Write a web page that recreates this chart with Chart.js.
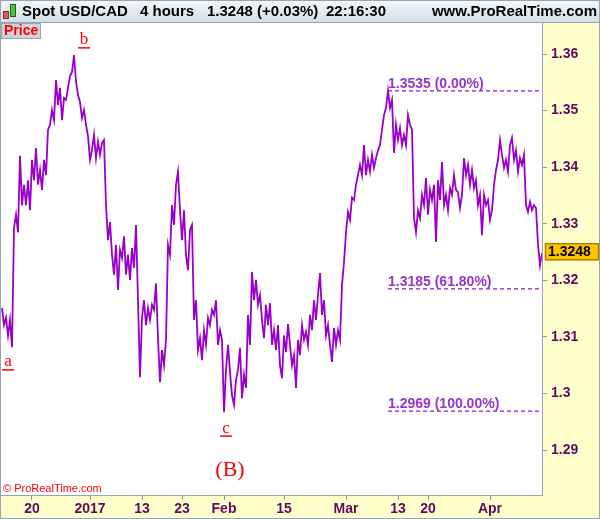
<!DOCTYPE html>
<html>
<head>
<meta charset="utf-8">
<script src="https://cdn.jsdelivr.net/npm/chart.js@4"></script>
<style>
  html, body { margin: 0; padding: 0; background: #fff; }
  #wrap { width: 600px; height: 519px; }
</style>
</head>
<body>
<div id="wrap"><canvas id="chart" width="600" height="519"></canvas></div>
<script>
// USD/CAD 4h closes (roughly one value per 2 px)
const closes = [
  1.3151, 1.3121, 1.3134, 1.3103, 1.3130, 1.3082, 1.3293, 1.3316, 1.3285, 1.3420,
  1.3333, 1.3369, 1.3333, 1.3377, 1.3324, 1.3413, 1.3377, 1.3434, 1.3369, 1.3395,
  1.3360, 1.3413, 1.3386, 1.3466, 1.3475, 1.3501, 1.3483, 1.3554, 1.3510, 1.3540,
  1.3483, 1.3522, 1.3519, 1.3540, 1.3561, 1.3568, 1.3598, 1.3551, 1.3528, 1.3515,
  1.3487, 1.3501, 1.3475, 1.3455, 1.3413, 1.3430, 1.3457, 1.3416, 1.3445, 1.3422,
  1.3443, 1.3448, 1.3333, 1.3271, 1.3303, 1.3245, 1.3210, 1.3263, 1.3183, 1.3254,
  1.3240, 1.3278, 1.3210, 1.3245, 1.3201, 1.3257, 1.3222, 1.3298, 1.3165, 1.3029,
  1.3134, 1.3165, 1.3121, 1.3151, 1.3130, 1.3157, 1.3148, 1.3195, 1.3098, 1.3020,
  1.3077, 1.3050, 1.3095, 1.3263, 1.3245, 1.3333, 1.3298, 1.3369, 1.3392, 1.3324,
  1.3271, 1.3324, 1.3245, 1.3218, 1.3289, 1.3298, 1.3130, 1.3165, 1.3077, 1.3098,
  1.3059, 1.3112, 1.3086, 1.3134, 1.3121, 1.3148, 1.3139, 1.3165, 1.3086, 1.3112,
  1.3095, 1.2967, 1.3042, 1.3086, 1.3038, 1.2997, 1.2980, 1.3024, 1.3042, 1.3081,
  1.2992, 1.3033, 1.3010, 1.3139, 1.3086, 1.3215, 1.3165, 1.3201, 1.3157, 1.3174,
  1.3130, 1.3098, 1.3157, 1.3121, 1.3160, 1.3086, 1.3112, 1.3077, 1.3121, 1.3050,
  1.3027, 1.3103, 1.3073, 1.3123, 1.3086, 1.3050, 1.3068, 1.3010, 1.3095, 1.3068,
  1.3121, 1.3095, 1.3109, 1.3086, 1.3139, 1.3112, 1.3165, 1.3130, 1.3174, 1.3213,
  1.3139, 1.3165, 1.3103, 1.3121, 1.3086, 1.3056, 1.3116, 1.3086, 1.3112, 1.3095,
  1.3192, 1.3232, 1.3285, 1.3321, 1.3307, 1.3346, 1.3342, 1.3369, 1.3386, 1.3404,
  1.3386, 1.3439, 1.3386, 1.3413, 1.3392, 1.3422, 1.3399, 1.3416, 1.3430, 1.3439,
  1.3466, 1.3492, 1.3505, 1.3535, 1.3505, 1.3519, 1.3425, 1.3475, 1.3448, 1.3469,
  1.3439, 1.3457, 1.3439, 1.3492, 1.3475, 1.3466, 1.3310, 1.3285, 1.3324, 1.3310,
  1.3351, 1.3333, 1.3381, 1.3316, 1.3360, 1.3342, 1.3369, 1.3268, 1.3377, 1.3342,
  1.3409, 1.3333, 1.3351, 1.3324, 1.3363, 1.3351, 1.3386, 1.3360, 1.3356, 1.3328,
  1.3351, 1.3416, 1.3386, 1.3404, 1.3369, 1.3395, 1.3363, 1.3377, 1.3333, 1.3351,
  1.3280, 1.3351, 1.3333, 1.3342, 1.3307, 1.3324, 1.3369, 1.3395, 1.3413, 1.3448,
  1.3422, 1.3399, 1.3413, 1.3392, 1.3439, 1.3452, 1.3413, 1.3430, 1.3392, 1.3416,
  1.3404, 1.3422, 1.3333, 1.3321, 1.3339, 1.3324, 1.3333, 1.3328, 1.3263, 1.3227,
  1.3248
];
const axisDateIdx = [15, 44, 70, 90, 111, 141, 172, 198, 213, 244];
const axisDates = ['20', '2017', '13', '23', 'Feb', '15', 'Mar', '13', '20', 'Apr'];
const priceTicks = [1.29, 1.30, 1.31, 1.32, 1.33, 1.34, 1.35, 1.36];
const fibLevels = [1.3535, 1.3185, 1.2969];
const fibPcts = ['0.00%', '61.80%', '100.00%'];
const waveNames = ['a', 'b', 'c', '(B)'];
const waveIdx = [3, 41, 112, 114];
const waveLevel = [1.3056, 1.3625, 1.2939, 1.2865];

const lastIdx = closes.length - 1;
const peakIdx = closes.indexOf(fibLevels[0]);
const purple = '#9900CC';
const axisText = '#5F0A5F';
const sans = '"Liberation Sans", Arial, sans-serif';
const serif = '"Liberation Serif", "Times New Roman", serif';

const fibSets = fibLevels.map(lv => ({
  data: [{x: peakIdx, y: lv}, {x: lastIdx, y: lv}],
  borderColor: '#9410D0',
  borderWidth: 1.2,
  borderDash: [4, 3],
  pointRadius: 0
}));

const decor = {
  id: 'decor',
  beforeDraw(chart) {
    const {ctx, chartArea: a} = chart;
    ctx.save();
    ctx.fillStyle = '#FFFFCC';
    ctx.fillRect(0, 0, 600, 519);
    ctx.fillStyle = '#fff';
    ctx.fillRect(a.left, a.top, a.right - a.left, a.bottom - a.top);
    // header strip
    const g = ctx.createLinearGradient(0, 0, 0, 22);
    g.addColorStop(0, '#F4F8FB');
    g.addColorStop(1, '#D3DFE8');
    ctx.fillStyle = g;
    ctx.fillRect(0, 0, 600, 22);
    ctx.restore();
  },
  afterDraw(chart) {
    const {ctx, chartArea: a, scales: {x, y}} = chart;
    ctx.save();
    // frame
    ctx.strokeStyle = '#95A5B2';
    ctx.lineWidth = 1;
    ctx.strokeRect(0.5, 0.5, 599, 518);
    ctx.beginPath();
    ctx.moveTo(0, 22.5); ctx.lineTo(600, 22.5);
    ctx.stroke();

    // candle icon
    ctx.fillStyle = '#E85A5A'; ctx.strokeStyle = '#803030';
    ctx.fillRect(3, 11, 6, 8); ctx.strokeRect(3.5, 11.5, 5, 7);
    ctx.fillStyle = '#3DCB3D'; ctx.strokeStyle = '#206020';
    ctx.fillRect(10, 4, 6, 13); ctx.strokeRect(10.5, 4.5, 5, 12);

    // header text
    ctx.fillStyle = '#000';
    ctx.font = 'bold 15px ' + sans;
    ctx.textBaseline = 'middle';
    ctx.textAlign = 'left';
    ctx.fillText('Spot USD/CAD', 22, 12);
    ctx.fillText('4 hours', 140, 12);
    ctx.fillText('1.3248 (+0.03%)', 207, 12);
    ctx.fillText('22:16:30', 326, 12);
    ctx.textAlign = 'right';
    ctx.fillText('www.ProRealTime.com', 597, 12);

    // "Price" tag
    ctx.fillStyle = '#CDD5DC';
    ctx.fillRect(1, 23, 40, 16);
    ctx.strokeStyle = '#9AA6B0';
    ctx.strokeRect(1.5, 23.5, 39, 15);
    ctx.fillStyle = '#FF0000';
    ctx.font = 'bold 14px ' + sans;
    ctx.textAlign = 'left';
    ctx.fillText('Price', 4, 31.5);

    // fibonacci labels
    ctx.fillStyle = '#9933CC';
    ctx.font = 'bold 14px ' + sans;
    ctx.textBaseline = 'alphabetic';
    fibLevels.forEach((lv, i) => {
      ctx.fillText(lv.toFixed(4) + ' (' + fibPcts[i] + ')', x.getPixelForValue(peakIdx), y.getPixelForValue(lv) - 3);
    });

    // wave letters
    ctx.fillStyle = '#FF0000';
    ctx.strokeStyle = '#FF0000';
    ctx.textAlign = 'center';
    ctx.textBaseline = 'middle';
    waveNames.forEach((n, i) => {
      const px = x.getPixelForValue(waveIdx[i]);
      const py = y.getPixelForValue(waveLevel[i]);
      ctx.font = (n.length > 1 ? '22px ' : '17px ') + serif;
      ctx.fillText(n, px, py);
      if (n.length === 1) {
        ctx.lineWidth = 1.5;
        ctx.beginPath();
        ctx.moveTo(px - 6, py + 8); ctx.lineTo(px + 6, py + 8);
        ctx.stroke();
      }
    });

    // copyright
    ctx.font = '11px ' + sans;
    ctx.textAlign = 'left';
    ctx.textBaseline = 'alphabetic';
    ctx.fillText('\u00A9 ProRealTime.com', 3, a.bottom - 3);

    // last price tag
    const last = closes[lastIdx];
    const ly = y.getPixelForValue(last) - 2;
    ctx.fillStyle = '#FFC300';
    ctx.fillRect(a.right + 3, ly - 8, 54, 17);
    ctx.strokeStyle = '#B08000';
    ctx.strokeRect(a.right + 3.5, ly - 7.5, 53, 16);
    ctx.fillStyle = '#000';
    ctx.font = 'bold 14px ' + sans;
    ctx.textBaseline = 'middle';
    ctx.fillText(last.toFixed(4), a.right + 6, ly + 1);
    ctx.restore();
  }
};

new Chart(document.getElementById('chart'), {
  type: 'line',
  data: {
    datasets: [{
      data: closes.map((v, i) => ({x: i, y: v})),
      borderColor: purple,
      borderWidth: 1.8,
      pointRadius: 0,
      tension: 0
    }].concat(fibSets)
  },
  options: {
    responsive: false,
    animation: false,
    events: [],
    layout: { padding: { top: 23, left: 1, right: 0, bottom: 0 } },
    plugins: { legend: { display: false }, tooltip: { enabled: false } },
    scales: {
      x: {
        type: 'linear',
        min: -0.5,
        max: lastIdx,
        afterBuildTicks: s => { s.ticks = axisDateIdx.map(v => ({value: v})); },
        afterFit: s => { s.height = 24; },
        ticks: {
          autoSkip: false,
          maxRotation: 0,
          padding: 1,
          color: axisText,
          font: { family: sans, size: 14, weight: 'bold' },
          callback: v => axisDates[axisDateIdx.indexOf(v)]
        },
        grid: { drawOnChartArea: false, tickLength: 5, color: '#8C9AA6' },
        border: { color: '#95A5B2' }
      },
      y: {
        position: 'right',
        min: 1.28208,
        max: 1.36548,
        afterBuildTicks: s => { s.ticks = priceTicks.map(v => ({value: v})); },
        afterFit: s => { s.width = 58; },
        ticks: {
          padding: 4,
          color: axisText,
          font: { family: sans, size: 14, weight: 'bold' },
          callback: v => String(+v.toFixed(2))
        },
        grid: { drawOnChartArea: false, tickLength: 5, color: '#8C9AA6' },
        border: { color: '#95A5B2' }
      }
    }
  },
  plugins: [decor]
});
</script>
</body>
</html>
